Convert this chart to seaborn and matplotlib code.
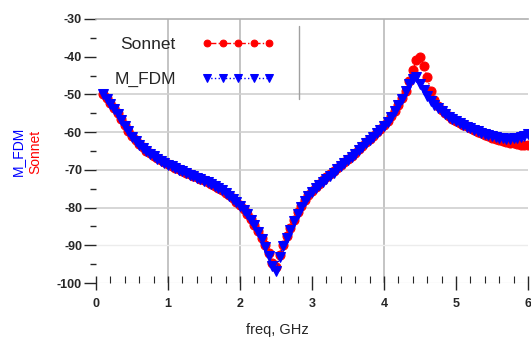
import numpy as np
import pandas as pd
import matplotlib
matplotlib.use("Agg")
import matplotlib.pyplot as plt
import seaborn as sns
from matplotlib.lines import Line2D
from matplotlib.ticker import MultipleLocator

# frequency points, GHz
freq = [round(0.1 + 0.05 * i, 2) for i in range(119)]

# M_FDM, dB
m_fdm = [
    -50.0, -51.3, -52.5, -53.8, -55.3, -56.8, -58.3, -59.8, -61.2, -62.3,
    -63.3, -64.2, -65.0, -65.7, -66.4, -67.0, -67.6, -68.1, -68.6, -69.1,
    -69.6, -70.0, -70.4, -70.9, -71.3, -71.7, -72.1, -72.5, -72.9, -73.3,
    -73.8, -74.3, -74.8, -75.4, -76.1, -76.8, -77.6, -78.5, -79.5, -80.6,
    -81.8, -83.2, -84.7, -86.4, -88.3, -90.4, -92.8, -95.5, -96.8, -93.0,
    -90.2, -88.0, -85.9, -83.6, -81.6, -79.8, -78.3, -77.0, -75.9, -74.9,
    -74.0, -73.1, -72.3, -71.5, -70.7, -69.9, -69.1, -68.3, -67.4, -66.6,
    -65.7, -64.8, -63.9, -63.0, -62.1, -61.2, -60.3, -59.4, -58.5, -57.3,
    -55.9, -54.5, -52.9, -51.2, -49.2, -47.3, -45.8, -45.5, -47.2, -48.8,
    -50.4, -51.7, -52.8, -53.7, -54.5, -55.2, -55.9, -56.5, -57.1, -57.6,
    -58.1, -58.6, -59.0, -59.4, -59.8, -60.1, -60.5, -60.8, -61.1, -61.3,
    -61.5, -61.6, -61.7, -61.7, -61.6, -61.5, -61.3, -61.0, -60.6,
]

# Sonnet, dB
sonnet = [
    -50.0, -51.0, -52.3, -53.5, -55.0, -56.6, -58.0, -59.6, -61.0, -62.1,
    -63.1, -64.0, -64.9, -65.6, -66.3, -66.9, -67.5, -68.0, -68.5, -69.0,
    -69.5, -69.9, -70.3, -70.8, -71.2, -71.6, -72.0, -72.4, -72.8, -73.2,
    -73.7, -74.2, -74.7, -75.3, -76.0, -76.7, -77.5, -78.4, -79.4, -80.5,
    -81.7, -83.0, -84.5, -86.2, -88.0, -90.0, -92.0, -94.8, -95.8, -92.5,
    -89.8, -87.6, -85.5, -83.3, -81.3, -79.5, -78.0, -76.7, -75.6, -74.6,
    -73.7, -72.8, -72.0, -71.2, -70.4, -69.6, -68.8, -68.0, -67.1, -66.3,
    -65.4, -64.5, -63.6, -62.7, -61.8, -60.9, -60.0, -59.1, -58.2, -57.0,
    -55.7, -54.3, -52.7, -51.0, -49.0, -46.5, -43.5, -41.0, -40.0, -42.5,
    -45.5, -49.0, -51.5, -53.0, -54.0, -55.0, -55.7, -56.4, -57.0, -57.5,
    -58.0, -58.5, -59.0, -59.5, -59.9, -60.3, -60.7, -61.1, -61.5, -61.8,
    -62.1, -62.4, -62.6, -62.8, -63.0, -63.2, -63.3, -63.4, -63.5,
]

x_ticks = [0, 1, 2, 3, 4, 5, 6]
y_ticks = [-30, -40, -50, -60, -70, -80, -90, -100]

sns.set_style("white")
plt.rcParams["font.family"] = ["Liberation Sans", "DejaVu Sans"]
plt.rcParams["axes.unicode_minus"] = False

fig = plt.figure(figsize=(5.31, 3.41), dpi=100)
ax = fig.add_axes([0.1808, 0.170, 0.8136, 0.7743])

# grid lines
for gx in [1, 2, 4]:
    ax.axvline(gx, color="#c4c4c4", lw=1.4, zorder=0)
for gy in [-50, -60, -70, -80]:
    ax.axhline(gy, color="#cfcfcf", lw=1.2, zorder=0)
for gy in [-90, -100]:
    ax.axhline(gy, color="#ececec", lw=1.0, zorder=0)

sns.lineplot(x=freq, y=sonnet, ax=ax, color="red", marker="o", markersize=6.5,
             markeredgecolor="red", linestyle="-.", lw=1, label="Sonnet",
             sort=False)
sns.lineplot(x=freq, y=m_fdm, ax=ax, color="blue", marker="v", markersize=7,
             markeredgecolor="blue", linestyle=":", lw=1, label="M_FDM",
             sort=False)

ax.set_xlim(0, 6)
ax.set_ylim(-100, -30)
ax.set_xticks(x_ticks)
ax.set_yticks(y_ticks)
ax.xaxis.set_minor_locator(MultipleLocator(0.2))
ax.yaxis.set_minor_locator(MultipleLocator(5))
ax.tick_params(axis="x", which="major", direction="inout", length=10, width=1,
               labelsize=9, pad=6, bottom=True)
ax.tick_params(axis="x", which="minor", direction="in", length=5, width=0.8,
               bottom=True)
ax.tick_params(axis="y", which="major", direction="out", length=9, width=1,
               labelsize=9, pad=1, left=True)
ax.tick_params(axis="y", which="minor", direction="out", length=4, width=1,
               left=True)
for lab in ax.get_xticklabels() + ax.get_yticklabels():
    lab.set_fontweight("bold")

for s in ["left", "right", "bottom"]:
    ax.spines[s].set_visible(False)
ax.spines["top"].set_color("#b0b0b0")
ax.spines["top"].set_linewidth(1.2)

leg = ax.legend(loc="upper left", bbox_to_anchor=(0.022, 0.965),
                frameon=False, markerfirst=False, fontsize=12.5,
                handlelength=4.2, handletextpad=1.5, labelspacing=1.15,
                numpoints=5, borderpad=0, markerscale=0.75)
ax.add_line(Line2D([0.47, 0.47], [0.697, 0.973], transform=ax.transAxes,
                   color="#a0a0a0", lw=1))

fig.text(0.5217, 0.032, "freq, GHz", ha="center", va="center", fontsize=10.5)
fig.text(0.034, 0.555, "M_FDM", color="blue", rotation=90, ha="center",
         va="center", fontsize=10)
fig.text(0.066, 0.555, "Sonnet", color="red", rotation=90, ha="center",
         va="center", fontsize=10)

fig.savefig("out.png", dpi=100)
